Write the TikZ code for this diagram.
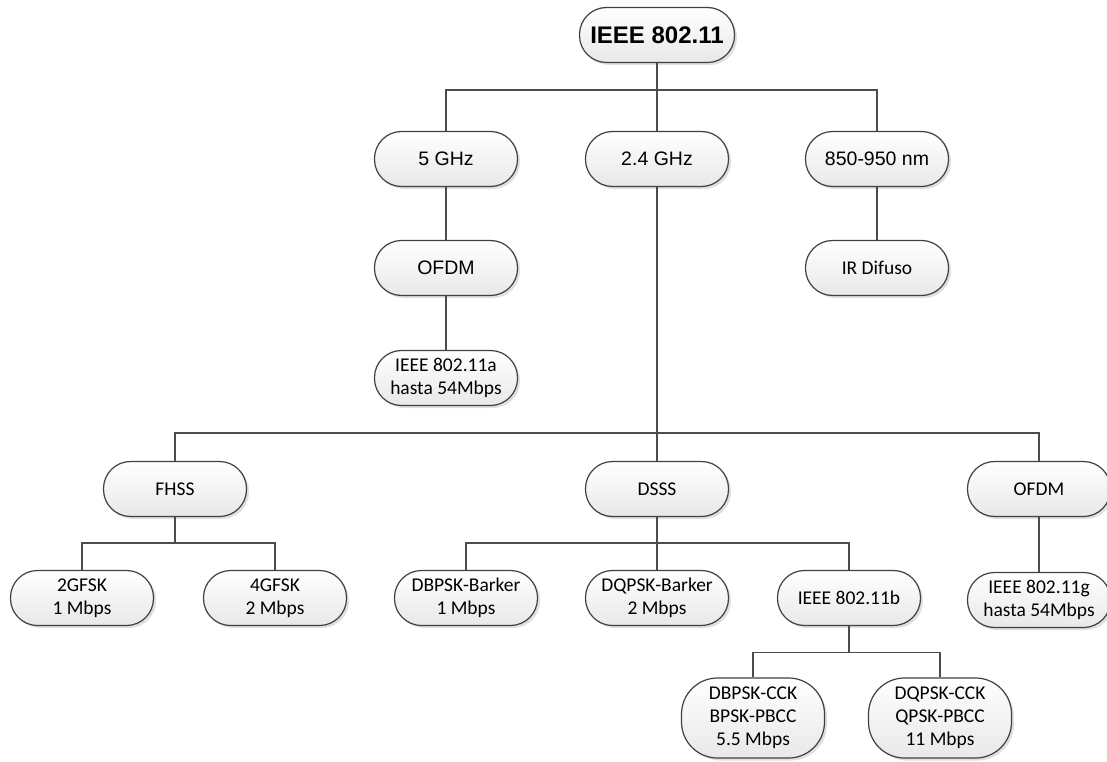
\documentclass[tikz,border=0pt]{standalone}
\usepackage{fontspec}
\setmainfont{Carlito}
\newfontfamily\arialf{Liberation Sans}
\usetikzlibrary{shadows}
\begin{document}
\begin{tikzpicture}[x=1pt,y=-1pt,
  box/.style={draw=black!75, line width=1.2pt, rounded corners=27pt,
    minimum width=143pt, minimum height=55pt, inner sep=0pt, align=center,
    top color=white, bottom color=black!9,
    drop shadow={shadow xshift=2.5pt, shadow yshift=-2.5pt, fill=black!20, opacity=0.6},
    font=\fontsize{19.5}{23}\selectfont},
  abox/.style={box, font=\arialf\fontsize{19.5}{23}\selectfont},
  tallbox/.style={box, minimum height=80pt, rounded corners=36pt},
  conn/.style={draw=black!70, line width=1.5pt}]
\useasboundingbox (0,0) rectangle (1107,762);
\fill[white] (0,0) rectangle (1107,762);
% nodes
\node[abox, minimum width=155pt, font=\arialf\bfseries\fontsize{24}{28}\selectfont] (top) at (657,35) {IEEE 802.11};
\node[abox] (g5) at (446,159) {5 GHz};
\node[abox] (g24) at (657,159) {2.4 GHz};
\node[abox] (nm) at (877,159) {850-950 nm};
\node[abox] (ofdmA) at (446,268) {OFDM};
\node[box] (ir) at (877,268) {IR Difuso};
\node[box] (a) at (446,378) {IEEE 802.11a\\hasta 54Mbps};
\node[box] (fhss) at (175,489) {FHSS};
\node[box] (dsss) at (657,489) {DSSS};
\node[box] (ofdmG) at (1039,489) {OFDM};
\node[box] (gfsk2) at (82,598) {2GFSK\\1 Mbps};
\node[box] (gfsk4) at (275,598) {4GFSK\\2 Mbps};
\node[box] (dbpsk) at (466,598) {DBPSK-Barker\\1 Mbps};
\node[box] (dqpsk) at (657,598) {DQPSK-Barker\\2 Mbps};
\node[box] (b) at (849,598) {IEEE 802.11b};
\node[box] (g) at (1039,600) {IEEE 802.11g\\hasta 54Mbps};
\node[tallbox] (cck1) at (753,718) {DBPSK-CCK\\BPSK-PBCC\\5.5 Mbps};
\node[tallbox] (cck2) at (940,718) {DQPSK-CCK\\QPSK-PBCC\\11 Mbps};
% junctions
\coordinate (j3) at (175,543);
\coordinate (j4) at (849,653);
% connectors
\draw[conn] (g5.north) -- ++(0,-41) -| (nm.north);
\draw[conn] (top.south) -- (g24.north);
\draw[conn] (g5.south) -- (ofdmA.north);
\draw[conn] (ofdmA.south) -- (a.north);
\draw[conn] (nm.south) -- (ir.north);
\draw[conn] (g24.south) -- (dsss.north);
\draw[conn] (fhss.north) -- ++(0,-28) -| (ofdmG.north);
\draw[conn] (gfsk2.north) -- ++(0,-27) -| (gfsk4.north);
\draw[conn] (fhss.south) -- (j3);
\draw[conn] (dbpsk.north) -- ++(0,-27) -| (b.north);
\draw[conn] (dsss.south) -- (dqpsk.north);
\draw[conn] (ofdmG.south) -- (g.north);
\draw[conn] (cck1.north) -- ++(0,-25) -| (cck2.north);
\draw[conn] (b.south) -- (j4);
\end{tikzpicture}
\end{document}
